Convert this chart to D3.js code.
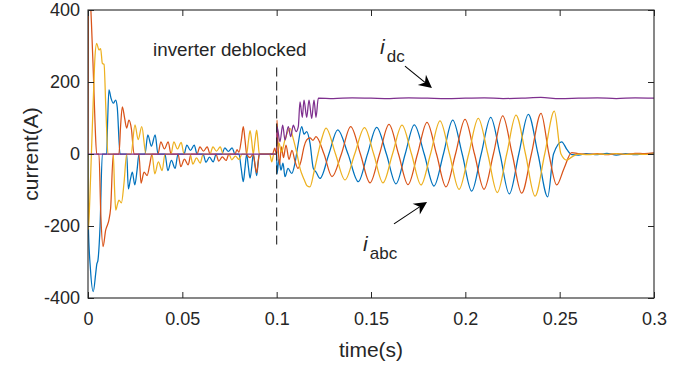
<!DOCTYPE html>
<html><head><meta charset="utf-8">
<script src="https://cdn.jsdelivr.net/npm/d3@7"></script>
<style>
body{margin:0;background:#fff}
text{font-family:"Liberation Sans",Arial,Helvetica,sans-serif;fill:#262626}
</style>
</head><body>
<svg id="chart" width="687" height="365"></svg>
<script>
// ---- data (time in s, current in A) ----
const xTicks = [0, 0.05, 0.1, 0.15, 0.2, 0.25, 0.3];
const yTicks = [-400, -200, 0, 200, 400];

const iaData = [[0,0],[0.0002,-200],[0.0013,-320],[0.0028,-382],[0.0041,-331],[0.0046,-308],[0.0053,-294],[0.0064,-200],[0.0076,0],[0.0099,0],[0.0104,90],[0.0111,178],[0.0122,155],[0.0134,141],[0.0147,150],[0.0155,130],[0.0170,0],[0.0205,0],[0.0214,-97],[0.0225,-70],[0.0235,-50],[0.0248,-86],[0.0260,-45],[0.0270,0],[0.0302,0],[0.0317,53],[0.0336,22],[0.0356,53],[0.0371,0],[0.0408,0],[0.0423,-46],[0.0442,-18],[0.0462,-40],[0.0477,0],[0.0509,0],[0.0524,25],[0.0543,10],[0.0563,25],[0.0578,0],[0.0610,0],[0.0625,-23],[0.0644,-9],[0.0664,-22],[0.0679,0],[0.0710,0],[0.0725,17],[0.0744,7],[0.0764,17],[0.0779,0],[0.0800,0],[0.0812,-40],[0.0823,-77],[0.0832,-40],[0.0841,0],[0.0850,-35],[0.0859,-67],[0.0868,-35],[0.0876,0],[0.0885,-30],[0.0894,-60],[0.0901,-30],[0.0908,0],[0.1000,0],[0.10016,-55],[0.10123,-15],[0.10229,-45],[0.10335,-25],[0.10442,-63],[0.10601,-40],[0.10797,-54],[0.10972,-25],[0.11131,25],[0.11327,76],[0.11449,55],[0.11592,62],[0.11767,30],[0.11942,-40],[0.12085,-50],[0.12297,-68],[0.12769,0],[0.13235,67],[0.13781,0],[0.14327,-77],[0.14815,0],[0.15302,74],[0.15817,0],[0.16325,-83],[0.16813,0],[0.17295,81],[0.17820,0],[0.18339,-89],[0.18838,0],[0.19331,94],[0.19834,0],[0.20338,-103],[0.20841,0],[0.21345,102],[0.21838,0],[0.22331,-111],[0.22834,0],[0.23338,110],[0.23852,0],[0.24367,-119],[0.24674,0],[0.25108,34],[0.25389,12],[0.25654,-2],[0.2600,-3],[0.2640,1],[0.2700,-2],[0.2750,2],[0.2800,-3],[0.2850,1],[0.2900,-2],[0.2950,1],[0.3000,2]];

const ibData = [[0,0],[0.0002,430],[0.0009,450],[0.0018,367],[0.0028,229],[0.0037,90],[0.0046,0],[0.0058,0],[0.0068,-170],[0.0080,-257],[0.0094,-211],[0.0101,-200],[0.0111,-183],[0.0120,-150],[0.0134,0],[0.0164,0],[0.0173,80],[0.0182,131],[0.0194,100],[0.0205,72],[0.0217,94],[0.0230,70],[0.0244,0],[0.0270,0],[0.0281,-81],[0.0297,-50],[0.0313,-60],[0.0327,-30],[0.0339,0],[0.0371,0],[0.0386,34],[0.0405,14],[0.0425,34],[0.0440,0],[0.0477,0],[0.0492,-35],[0.0511,-14],[0.0531,-30],[0.0546,0],[0.0578,0],[0.0593,20],[0.0612,8],[0.0632,20],[0.0647,0],[0.0678,0],[0.0693,-20],[0.0712,-8],[0.0732,-18],[0.0747,0],[0.0779,0],[0.0790,12],[0.0800,5],[0.0813,40],[0.0823,76],[0.0832,40],[0.0841,0],[0.0859,-10],[0.0876,0],[0.0885,-30],[0.0894,-52],[0.0901,-25],[0.0908,0],[0.0978,0],[0.0990,16],[0.0998,0],[0.1000,0],[0.10016,94],[0.10069,30],[0.10149,-30],[0.10255,20],[0.10361,-10],[0.10494,25],[0.10653,-15],[0.10812,10],[0.10972,-20],[0.11131,-40],[0.11290,-20],[0.11449,20],[0.11592,39],[0.11767,45],[0.11926,38],[0.12085,48],[0.12509,0],[0.12933,-63],[0.13431,0],[0.13924,76],[0.14438,0],[0.14947,-80],[0.15451,0],[0.15954,82],[0.16458,0],[0.16961,-85],[0.17465,0],[0.17968,88],[0.18472,0],[0.18975,-91],[0.19479,0],[0.19983,96],[0.20486,0],[0.20990,-98],[0.21488,0],[0.21981,106],[0.22484,0],[0.22988,-109],[0.23502,0],[0.24011,113],[0.24430,0],[0.24843,-86],[0.25230,-40],[0.25638,4],[0.25972,1],[0.2650,-1],[0.2700,1],[0.2750,-2],[0.2800,1],[0.2850,-1],[0.2900,2],[0.2950,1],[0.3000,3]];

const icData = [[0,0],[0.0002,-210],[0.0010,-120],[0.0018,0],[0.0028,150],[0.0037,270],[0.0046,307],[0.0058,289],[0.0067,293],[0.0076,252],[0.0085,249],[0.0095,120],[0.0106,0],[0.0134,0],[0.0141,-100],[0.0147,-156],[0.0156,-140],[0.0164,-128],[0.0177,-136],[0.0191,-80],[0.0205,0],[0.0228,0],[0.0249,81],[0.0266,40],[0.0285,76],[0.0307,0],[0.0339,0],[0.0354,-55],[0.0373,-22],[0.0393,-46],[0.0408,0],[0.0440,0],[0.0455,34],[0.0474,14],[0.0494,32],[0.0509,0],[0.0541,0],[0.0556,-28],[0.0575,-11],[0.0595,-25],[0.0610,0],[0.0647,0],[0.0662,20],[0.0681,8],[0.0701,20],[0.0716,0],[0.0747,0],[0.0762,-16],[0.0781,-6],[0.0801,-15],[0.0816,0],[0.0841,0],[0.0850,35],[0.0859,65],[0.0868,35],[0.0876,0],[0.0885,35],[0.0894,66],[0.0901,35],[0.0908,0],[0.0963,0],[0.0974,-22],[0.0985,0],[0.1000,0],[0.10043,20],[0.10123,30],[0.10255,5],[0.10442,40],[0.10707,71],[0.10866,45],[0.11078,0],[0.11237,-40],[0.11449,-70],[0.11608,-88],[0.11767,-91],[0.11979,-50],[0.12191,0],[0.12403,45],[0.12615,72],[0.13119,0],[0.13622,-72],[0.14136,0],[0.14656,73],[0.15143,0],[0.15636,-80],[0.16140,0],[0.16643,80],[0.17147,0],[0.17650,-86],[0.18154,0],[0.18657,92],[0.19161,0],[0.19664,-98],[0.20178,0],[0.20687,99],[0.21191,0],[0.21695,-107],[0.22193,0],[0.22686,108],[0.23189,0],[0.23693,-117],[0.24207,0],[0.24716,119],[0.25071,0],[0.25373,-17],[0.25654,-8],[0.25972,0],[0.2650,-2],[0.2700,0],[0.2750,-1],[0.2800,1],[0.2850,-1],[0.2900,0],[0.2950,-1],[0.3000,0]];

const idcData = [[0,0],[0.1000,0],[0.10016,76],[0.10175,34],[0.10319,80],[0.10442,39],[0.10617,76],[0.10744,48],[0.10882,80],[0.11025,62],[0.11147,76],[0.11237,145],[0.11359,102],[0.11449,150],[0.11592,102],[0.11714,150],[0.11857,99],[0.11979,150],[0.12085,102],[0.12207,155],[0.1300,154],[0.1400,156],[0.1500,155],[0.1600,154],[0.1700,156],[0.1800,155],[0.1900,154],[0.2000,155],[0.2100,156],[0.2200,154],[0.2300,155],[0.2400,157],[0.2500,154],[0.2600,155],[0.2700,156],[0.2800,154],[0.2900,156],[0.3000,155]];

const seriesColors = ["#0072BD", "#D95319", "#EDB120", "#7E2F8E"];
const seriesList = [iaData, ibData, icData, idcData];

// annotations (data coordinates)
const deblockT = 0.1, deblockRange = [240, -262];
const annText = {label: "inverter deblocked", t: 0.0345, i: 271};
const idcArrow = {from: [0.1680, 244], to: [0.1823, 183]};
const iabcArrow = {from: [0.1622, -194], to: [0.1797, -133]};
const idcLabel = {t: 0.1548, i: 278, sub: "dc"};
const iabcLabel = {t: 0.1458, i: -269, sub: "abc"};

// ---- drawing ----
const L = 88, R = 654, T = 10, B = 298;
const x = d3.scaleLinear().domain([0, 0.3]).range([L, R]);
const y = d3.scaleLinear().domain([-400, 400]).range([B, T]);
const svg = d3.select("#chart");
const axisColor = "#262626";

svg.append("defs").append("clipPath").attr("id", "clip")
  .append("rect").attr("x", L).attr("y", T).attr("width", R - L).attr("height", B - T);

const line = d3.line().x(d => x(d[0])).y(d => y(d[1])).curve(d3.curveMonotoneX);
const g = svg.append("g").attr("clip-path", "url(#clip)");
seriesList.forEach((s, k) => {
  g.append("path").datum(s).attr("d", line).attr("fill", "none")
    .attr("stroke", seriesColors[k]).attr("stroke-width", 1.25).attr("stroke-linejoin", "round");
});

// dashed line
svg.append("line").attr("x1", x(deblockT)).attr("x2", x(deblockT))
  .attr("y1", y(deblockRange[0])).attr("y2", y(deblockRange[1]))
  .attr("stroke", "#262626").attr("stroke-width", 1.1).attr("stroke-dasharray", "9,5");

// axes
const fs = 18;
const ax = (sel) => { sel.select(".domain").remove(); sel.selectAll("line").attr("stroke", axisColor); };
svg.append("g").attr("transform", `translate(0,${B})`)
  .call(d3.axisBottom(x).tickValues(xTicks).tickSize(-6).tickPadding(14).tickFormat(d => String(d)))
  .call(ax).selectAll("text").style("font-size", fs + "px").attr("fill", axisColor);
svg.append("g").attr("transform", `translate(0,${T})`)
  .call(d3.axisTop(x).tickValues(xTicks).tickSize(-6).tickFormat(""))
  .call(ax);
svg.append("g").attr("transform", `translate(${L},0)`)
  .call(d3.axisLeft(y).tickValues(yTicks).tickSize(-6).tickPadding(8).tickFormat(d => String(d)))
  .call(ax).selectAll("text").style("font-size", fs + "px").attr("fill", axisColor);
svg.append("g").attr("transform", `translate(${R},0)`)
  .call(d3.axisRight(y).tickValues(yTicks).tickSize(-6).tickFormat(""))
  .call(ax);
svg.append("rect").attr("x", L).attr("y", T).attr("width", R - L).attr("height", B - T)
  .attr("fill", "none").attr("stroke", axisColor).attr("stroke-width", 1.1);

// axis labels
svg.append("text").attr("x", (L + R) / 2).attr("y", 357).attr("text-anchor", "middle")
  .style("font-size", "21px").text("time(s)");
svg.append("text").attr("transform", `translate(38,${(T + B) / 2}) rotate(-90)`).attr("text-anchor", "middle")
  .style("font-size", "21px").text("current(A)");

// annotation text
svg.append("text").attr("x", x(annText.t)).attr("y", y(annText.i)).style("font-size", "18.8px").attr("fill", "#000").text(annText.label);

function subLabel(lb) {
  const t = svg.append("text").attr("x", x(lb.t)).attr("y", y(lb.i)).attr("fill", "#000");
  t.append("tspan").style("font-size", "21px").style("font-style", "italic").text("i");
  t.append("tspan").style("font-size", "17px").attr("dx", 2).attr("dy", 8).text(lb.sub);
}
subLabel(idcLabel);
subLabel(iabcLabel);

function arrow(a) {
  const x1 = x(a.from[0]), y1 = y(a.from[1]), x2 = x(a.to[0]), y2 = y(a.to[1]);
  const ang = Math.atan2(y2 - y1, x2 - x1);
  const hl = 13, hw = 6.5, notch = 9;
  const bx = x2 - hl * Math.cos(ang), by = y2 - hl * Math.sin(ang);
  const nx = x2 - notch * Math.cos(ang), ny = y2 - notch * Math.sin(ang);
  const px = -Math.sin(ang), py = Math.cos(ang);
  svg.append("line").attr("x1", x1).attr("y1", y1).attr("x2", nx).attr("y2", ny)
    .attr("stroke", "#000").attr("stroke-width", 1.1);
  svg.append("path").attr("d", `M${x2},${y2}L${bx + px * hw},${by + py * hw}L${nx},${ny}L${bx - px * hw},${by - py * hw}Z`)
    .attr("fill", "#000");
}
arrow(idcArrow);
arrow(iabcArrow);
</script>
</body></html>
